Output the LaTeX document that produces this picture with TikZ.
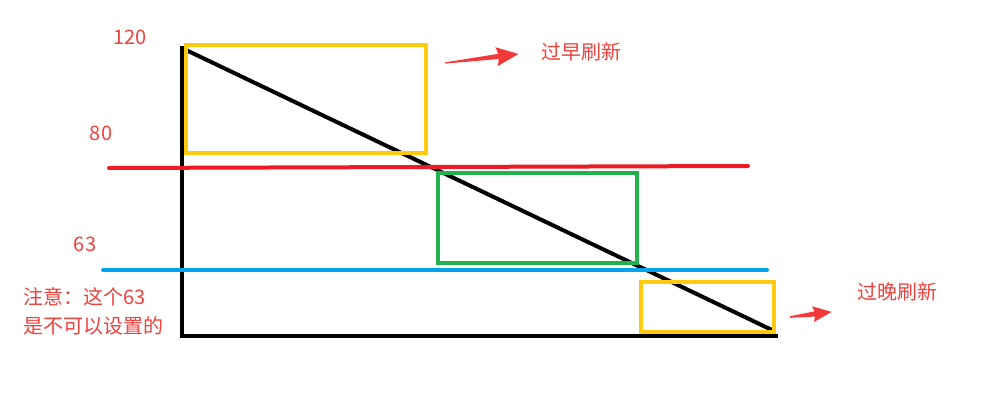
\documentclass[tikz,border=0pt]{standalone}
\usepackage{fontspec}
\setmainfont{Noto Sans CJK SC}
\definecolor{txtred}{HTML}{F0413C}
\definecolor{linered}{HTML}{ED1C24}
\definecolor{boxyel}{HTML}{FFC90E}
\definecolor{boxgrn}{HTML}{22B14C}
\definecolor{lineblue}{HTML}{00A2E8}
\definecolor{arrred}{HTML}{F23A3A}
\begin{document}
\begin{tikzpicture}[x=1pt,y=-1pt,
  lbl/.style={text=txtred,font=\fontsize{20}{25}\selectfont,inner sep=0pt},
  axisline/.style={line width=4.5pt,black},
  colbox/.style={line width=4pt},
  levelline/.style={line width=4pt,line cap=round}]
\useasboundingbox (0,0) rectangle (981,412);
% axes
\coordinate (top) at (182,46);
\coordinate (origin) at (182,336);
\coordinate (xend) at (778,336);
\draw[axisline] (top) -- (origin) -- (xend);
% diagonal
\coordinate (d1) at (186,50);
\coordinate (d2) at (772,330);
\draw[line width=4pt] (d1) -- (d2);
% level lines
\coordinate (r1) at (109,168);
\coordinate (r2) at (748,166);
\draw[levelline,linered] (r1) -- (r2);
\coordinate (b1) at (103,270);
\coordinate (b2) at (767,270);
\draw[levelline,lineblue] (b1) -- (b2);
% boxes
\draw[colbox,boxyel] (186,45) rectangle (426,153);
\draw[colbox,boxgrn] (438,173) rectangle (637,263);
\draw[colbox,boxyel] (641,282) rectangle (774,332);
% arrows
\begin{scope}[shift={(445,63)},rotate=7]
  \fill[arrred] (0,-0.6) -- (54,-2.6) -- (52,-9.5) -- (74,0) -- (52,9.5) -- (54,2.6) -- (0,0.6) -- cycle;
\end{scope}
\begin{scope}[shift={(790,317)},rotate=7]
  \fill[arrred] (0,-0.8) -- (25,-2.6) -- (23,-8) -- (42,0) -- (23,8) -- (25,2.6) -- (0,0.8) -- cycle;
\end{scope}
% labels
\node[lbl] (l120) at (130,37) {120};
\node[lbl] (l80) at (101,133) {80};
\node[lbl] (l63) at (85,244) {63};
\node[lbl] (early) at (581,52) {过早刷新};
\node[lbl] (late) at (897,292) {过晚刷新};
\node[lbl,anchor=west] (note1) at (23,297) {注意：这个63};
\node[lbl,anchor=west] (note2) at (23,326) {是不可以设置的};
\end{tikzpicture}
\end{document}
